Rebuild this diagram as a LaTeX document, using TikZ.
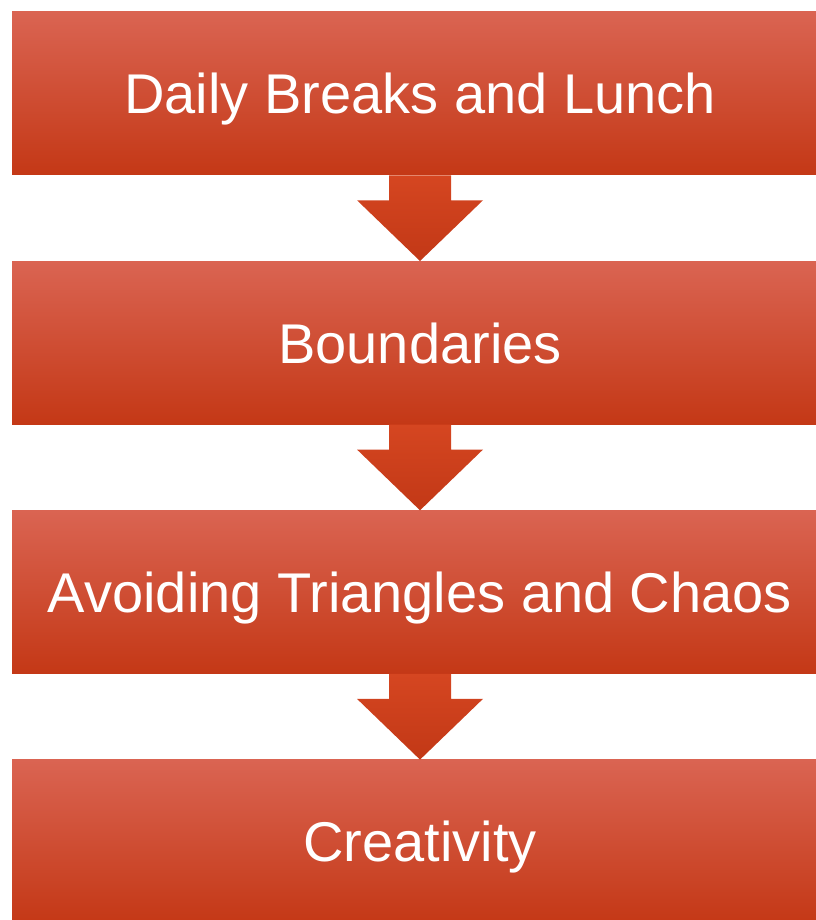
\documentclass[tikz,border=0pt]{standalone}
\usepackage{fontspec}
\setmainfont{Liberation Sans}
\definecolor{boxtop}{RGB}{218,100,82}
\definecolor{boxmid}{RGB}{212,68,32}
\definecolor{boxbot}{RGB}{196,56,22}
\definecolor{arrtop}{RGB}{213,70,33}
\definecolor{arrbot}{RGB}{194,56,22}

\begin{document}
\begin{tikzpicture}[x=0.75pt,y=0.75pt,
  stepbox/.style={rectangle,minimum width=612pt,minimum height=122.25pt,inner sep=0pt,
    top color=boxtop,middle color=boxmid,bottom color=boxbot,shading angle=0,
    text=white,text depth=0pt,font=\fontsize{42}{50}\selectfont},
  downarrow/.style={top color=arrtop,bottom color=arrbot}]
\useasboundingbox (0,0) rectangle (815,920);
\node[stepbox] (daily) at (420,826.5) {Daily Breaks and Lunch};
\node[stepbox] (bound) at (420,577.2) {Boundaries};
\node[stepbox] (chaos) at (420,327.9) {Avoiding Triangles and Chaos};
\node[stepbox] (creat) at (420,78.6) {Creativity};
% block arrows from one box to the next
\foreach \a/\b in {daily/bound,bound/chaos,chaos/creat}
  \shade[downarrow] ([xshift=-23.25pt]\a.south) -- ([xshift=-23.25pt,yshift=-18.75pt]\a.south)
    -- ([xshift=-47.25pt,yshift=-18.75pt]\a.south) -- (\b.north)
    -- ([xshift=47.25pt,yshift=-18.75pt]\a.south) -- ([xshift=23.25pt,yshift=-18.75pt]\a.south)
    -- ([xshift=23.25pt]\a.south) -- cycle;
\end{tikzpicture}
\end{document}
